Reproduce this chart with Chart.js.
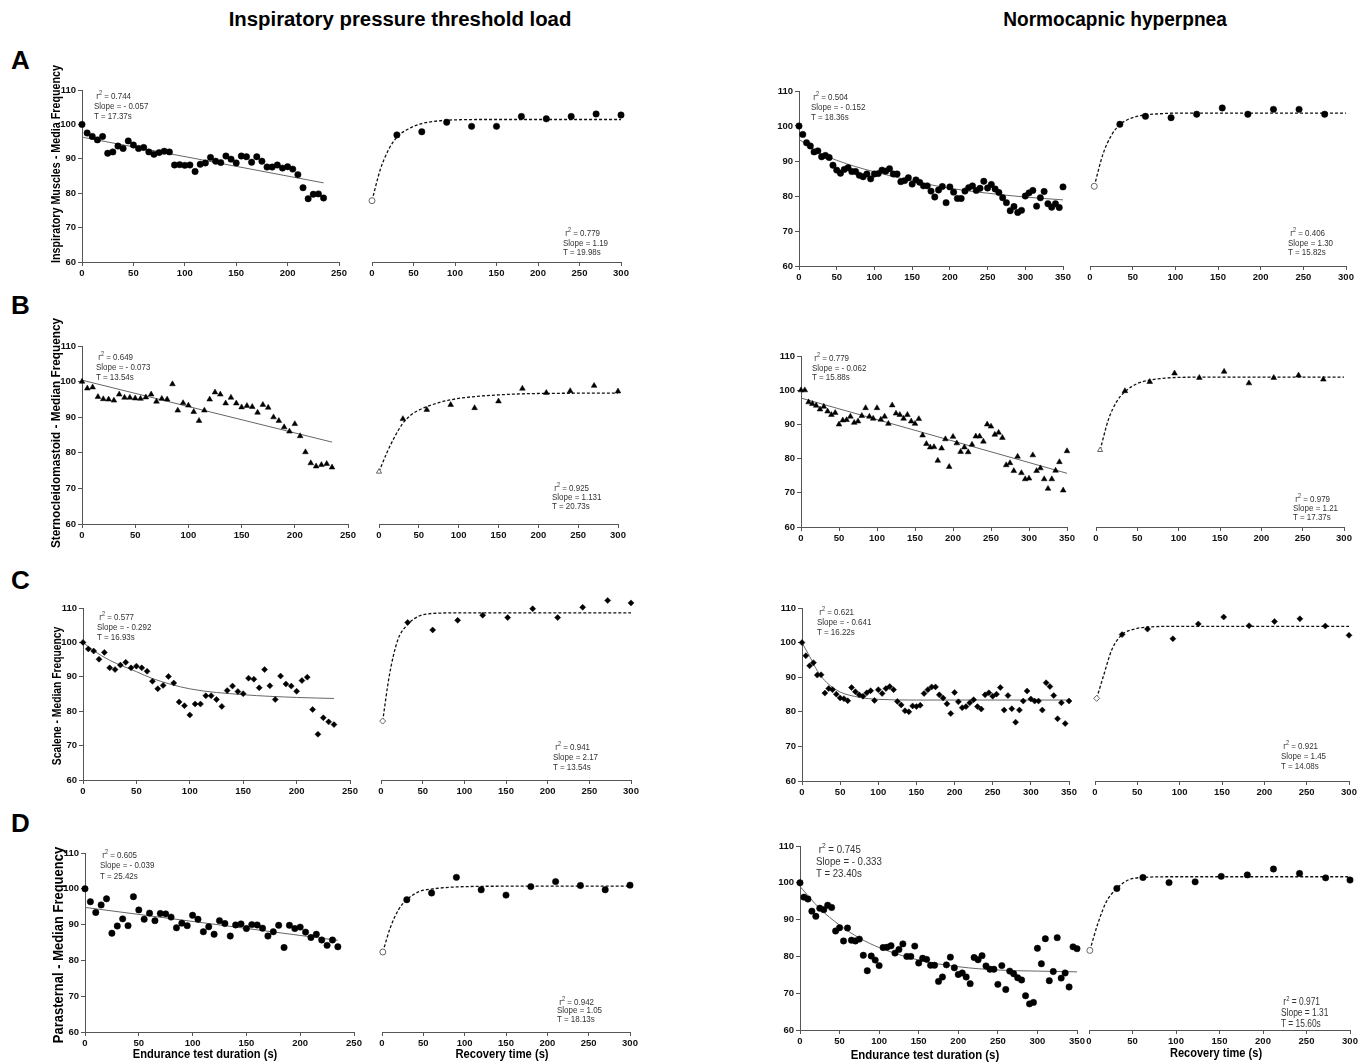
<!DOCTYPE html>
<html>
<head>
<meta charset="utf-8">
<script src="https://cdn.jsdelivr.net/npm/chart.js@4.4.0/dist/chart.umd.min.js"></script>
<style>
    body { margin: 0; background: #fff; }
    #fig { position: relative; width: 1364px; height: 1064px; overflow: hidden; font-family: "Liberation Sans", Arial, sans-serif; color: #000; }
    #fig canvas { position: absolute; }
    .txt { position: absolute; white-space: nowrap; }
    .title { font-weight: bold; font-size: 20px; }
    .letter { font-weight: bold; font-size: 26px; }
    .ytitle { font-weight: bold; font-size: 13.5px; }
    .xtitle { font-weight: bold; font-size: 12.5px; }
    .note { color: #333; transform-origin: left top; transform: scaleX(0.84); }
    .note sup { font-size: 70%; line-height: 0; }
</style>
</head>
<body>
<div id="fig"></div>
<script>
// time axis of the endurance tests (s)
const end235 = [0,5,10,15,20,25,30,35,40,45,50,55,60,65,70,75,80,85,90,95,100,105,110,115,120,125,130,135,140,145,150,155,160,165,170,175,180,185,190,195,200,205,210,215,220,225,230,235];
const end350 = [0,5,10,15,20,25,30,35,40,45,50,55,60,65,70,75,80,85,90,95,100,105,110,115,120,125,130,135,140,145,150,155,160,165,170,175,180,185,190,195,200,205,210,215,220,225,230,235,240,245,250,255,260,265,270,275,280,285,290,295,300,305,310,315,320,325,330,335,340,345,350];
const yTicks = [60, 70, 80, 90, 100, 110];

// A - inspiratory muscles
const aEndL = [100,97.5,96.5,95.5,96.5,91.6,92,93.7,93,95.2,94,93,93.3,92,91.3,91.8,92.2,92,88.2,88.3,88.1,88.2,86.3,88.4,88.8,90.4,89.3,88.9,90.8,89.9,88.8,90.8,90.6,89,90.6,89.3,87.6,87.6,88.2,87.3,87.7,87,85.4,81.6,78.4,79.7,79.8,78.6];
const aFitLx = [0, 235], aFitLy = [96.3, 83];
const aRecLx = [30,60,90,120,150,180,210,240,270,300];
const aRecLy = [97.1,98,100.8,99.6,99.6,102.5,101.8,102.5,103.2,102.9];
const aCurLx = [0,10,20,30,45,60,80,100,150,200,300];
const aCurLy = [77.9,87,92.8,96.4,99,100.4,101.2,101.5,101.6,101.6,101.6];
const aEndR = [100,97.6,95.2,94.3,92.6,92.9,91.2,91.6,91,88.8,87.4,86.5,87.6,88.1,87,87,85.9,85.5,86.3,84.9,86.3,86.4,87.4,87.1,87.8,86.3,86.3,84.1,84.4,85.2,83.4,84.6,83.9,82.9,82.9,81.4,79.7,81.7,82.7,78.1,82.6,81.1,79.3,79.3,81.4,82.4,82.9,81.6,82.2,84.2,82.3,83.3,82,81,79.5,78.1,75.8,77,75.3,75.9,80,80.9,81.6,77.1,79.5,81.3,77.8,76.8,77.8,76.7,82.6];
const aFitRx = [0,25,50,75,100,150,200,250,300,350];
const aFitRy = [96.2,92.6,90.2,88.4,86.9,84.3,82.2,80.8,79.7,78.9];
const aRecRx = [35,65,95,125,155,185,215,245,275];
const aRecRy = [100.7,103,102.6,103.6,105.4,103.6,105,105,103.6];
const aCurRx = [5,15,25,35,50,65,80,100,150,300];
const aCurRy = [82.9,92,97.5,100.6,102.6,103.4,103.7,103.9,103.9,103.9];

// B - sternocleidomastoid
const bEndL = [100,98.1,98.4,95.7,95.1,95,94.7,96.4,95.5,95.5,95.3,95.2,95.6,96.4,94.4,95.2,95,99.3,91.9,94,93.3,91.5,89,91.9,95,97,96.4,93.9,95.5,93.9,92.8,93.2,92.9,91.3,93.5,92.7,90,89,87.2,86,88.1,84.7,80.2,77.1,76.2,76.6,76.9,75.9];
const bFitLx = [0, 235], bFitLy = [100.4, 83];
const bRecLx = [30,60,90,120,150,180,210,240,270,300];
const bRecLy = [89.7,92.3,93.7,92.8,94.7,98.3,97.1,97.6,99.1,97.5];
const bCurLx = [0,10,20,30,40,50,75,100,150,200,300];
const bCurLy = [74.8,80.2,84.8,88.5,90.8,92.2,94.3,95.5,96.5,96.9,97];
const bEndR = [100,100,96.5,96,95.5,94.4,95.2,93.8,92.8,93.4,90,91.2,91.3,92.3,90.5,90.9,92.5,94.8,92.3,91.7,94.8,91.4,92.3,90.2,95.6,93.2,92.8,91.7,92.8,90.9,90.2,91.6,86.8,84.3,83.3,83.4,79.4,83,85.7,77.6,86.4,84.5,82,83.3,81.9,84.1,86.5,86.5,85,90,89.4,87,87.6,86.1,78.1,78.7,76.4,80.6,75.8,74,74.2,81,76.4,77.2,74,71.2,74,76.5,79,70.7,82.2];
const bFitRx = [0, 350], bFitRy = [97.7, 75.7];
const bRecRx = [35,65,95,125,155,185,215,245,275];
const bRecRy = [99.9,102.6,105.1,103.8,105.6,102.2,103.8,104.5,103.3];
const bCurRx = [5,15,25,35,50,65,80,100,150,300];
const bCurRy = [82.6,91.5,96.8,99.7,102.1,103.1,103.6,103.9,104,104];

// C - scalene
const cEndL = [100,98.1,97.5,95.1,97.1,92.6,92.1,93.4,94.2,92.6,93.1,92.6,91.6,88.7,86.5,87.5,90.1,88.2,82.7,81.6,78.9,82.1,82.1,84.5,84.5,83.4,81.4,86,87.3,85.7,85.1,89.6,89.3,86.8,92.1,87.4,83.4,90.2,87.9,87.3,85.8,88.9,89.9,80.5,73.3,78.1,76.9,76.1];
const cFitLx = [0,10,25,50,65,100,150,200,235];
const cFitLy = [100,97.6,94.8,91.5,89.5,86.5,84.8,84,83.7];
const cRecLx = [32,62,92,122,152,182,212,242,272,300];
const cRecLy = [106,103.8,106.6,108.1,107.4,110,107.4,110.4,112.4,111.7];
const cCurLx = [2,10,20,30,40,50,70,100,150,300];
const cCurLy = [77.2,90.5,100.8,104.9,107.1,108.2,108.7,108.8,108.8,108.8];
const cEndR = [100,96.2,93.3,94.2,90.6,90.7,85.4,86.7,86.4,85.1,84,83.8,83.2,87,85.8,84.9,84.5,85.5,86.1,83.3,86.4,85.3,86.7,87.3,86.4,83,82,80.3,80,81.7,81.5,81.9,85.3,86.4,87.2,87.2,84.9,84,82.3,79.5,85.6,82.9,81.2,81.5,82.6,83.5,81.5,80.8,84.9,85.5,84.5,85.1,87,80.5,84.7,80.9,77,80.5,83.1,86,83.7,83.1,83.1,80.5,88.4,87.3,84.7,78,82.6,76.6,83.1];
const cFitRx = [0,10,20,30,40,50,75,100,150,350];
const cFitRy = [100,96,91.9,89,87.1,85.7,84.2,83.6,83.4,83.4];
const cRecRx = [32,62,92,122,152,182,212,242,272,300];
const cRecRy = [102.5,104.1,101.3,105.6,107.6,105.1,106.3,107.1,105,102.3];
const cCurRx = [2,10,20,32,45,62,100,300];
const cCurRy = [84,90.5,98.2,102.5,104,104.7,104.9,104.9];

// D - parasternal
const dEndL = [100,96.4,93.4,95.5,97.2,87.6,89.6,91.6,89.7,97.8,94.1,91.5,93.2,91.1,93.1,93,92.1,89.1,90.4,89.7,92.6,91.5,88,89.4,87.3,91.1,90.3,86.8,89.9,90.2,88.9,90,89.9,89,86.8,88,89.8,83.6,89.8,88.9,89.3,87.9,86.4,87.3,85.7,84.2,85.7,83.8];
const dFitLx = [0, 235], dFitLy = [94.8, 85.6];
const dRecLx = [30,60,90,120,150,180,210,240,270,300];
const dRecLy = [97.2,99.1,103.5,100,98.5,100.9,102.3,101.2,100,101.3];
const dCurLx = [1,10,20,30,45,60,90,150,300];
const dCurLy = [82.5,89.3,94.4,97.2,99.5,100.2,100.8,101,101];
const dEndR = [100,96.1,95.6,92.3,90.9,93.1,92.7,93.9,93.3,86.9,87.8,84.2,87.7,84.4,84.2,84.7,80.3,76.1,80.1,79,77.5,82.4,82.5,82.9,80.9,81.9,83.4,80,80,82.8,78.2,79.5,79.2,77.6,77.6,73.2,74.4,77.7,79.8,76.9,75.1,75.5,74.4,72.6,79.7,79.1,80.2,77.4,76.5,76.5,72.4,77.5,71,76,75.3,74.2,73.6,69.3,67.1,67.5,82.2,78,84.8,73.4,75.9,85.1,74.1,75.5,71.7,82.6,82.1];
const dFitRx = [0,25,50,75,100,150,200,250,300,350];
const dFitRy = [99,93,88.5,85,82.4,79,77.2,76.3,76,75.8];
const dRecRx = [32,62,92,122,152,182,212,242,272,300];
const dRecRy = [98.6,101.6,100.2,100.4,101.9,102.3,103.9,102.7,101.5,100.9];
const dCurRx = [1,10,20,32,45,62,100,300];
const dCurRy = [81.7,88.9,95,98.6,100.9,101.6,101.8,101.8];

// first recovery value (open symbol): [time, value]
const aOpenL = [0, 77.9], aOpenR = [5, 82.9];
const bOpenL = [0, 74.8], bOpenR = [5, 82.6];
const cOpenL = [2, 77.2], cOpenR = [2, 84];
const dOpenL = [1, 82.5], dOpenR = [1, 81.7];

const fig = document.getElementById("fig");
const FONT = "'Liberation Sans', Arial, sans-serif";

function xy(xs, ys) {
    return xs.map((x, i) => ({ x: x, y: ys[i] }));
}

// one axis box: x0/x1 = pixel of first/last x tick, yTop/yBot = pixel of 110/60
// recovery boxes have no visible y axis, so their range runs up to 114 to keep high points drawn
function panel(box, xMax, showY, datasets) {
    let yMax = showY ? 110 : 114;
    let extra = (box.yBot - box.yTop) / 50 * (yMax - 110);
    let padL = showY ? 32 : 9;
    let padR = 14, padT = showY ? 12 : 4, axisH = 18;
    let w = box.x1 - box.x0 + padL + padR;
    let h = box.yBot - box.yTop + extra + padT + axisH;

    let canvas = document.createElement("canvas");
    canvas.width = w;
    canvas.height = Math.round(h);
    canvas.style.left = (box.x0 - padL) + "px";
    canvas.style.top = Math.round(box.yTop - extra - padT) + "px";
    fig.appendChild(canvas);

    let tickFont = { family: FONT, size: 9.5, weight: "bold" };
    new Chart(canvas.getContext("2d"), {
        type: "scatter",
        data: { datasets: datasets },
        options: {
            responsive: false,
            animation: false,
            layout: { padding: { left: showY ? 0 : padL, right: padR, top: padT, bottom: 0 } },
            plugins: { legend: { display: false }, tooltip: { enabled: false } },
            scales: {
                x: {
                    type: "linear", min: 0, max: xMax,
                    grid: { drawOnChartArea: false, drawTicks: true, tickLength: 4, color: "#555" },
                    border: { display: true, color: "#555", width: 1 },
                    ticks: { stepSize: 50, color: "#111", font: tickFont, padding: 2, maxRotation: 0 },
                    afterFit: s => { s.height = axisH; }
                },
                y: {
                    display: showY, min: 60, max: yMax,
                    grid: { drawOnChartArea: false, drawTicks: true, tickLength: 4, color: "#555" },
                    border: { display: true, color: "#555", width: 1 },
                    afterBuildTicks: s => { s.ticks = yTicks.map(v => ({ value: v })); },
                    ticks: { color: "#111", font: tickFont, padding: 2 },
                    afterFit: s => { s.width = padL; }
                }
            }
        }
    });
}

function dots(xs, ys, style, r) {
    return { data: xy(xs, ys), pointStyle: style, pointRadius: r, backgroundColor: "#000", borderColor: "#000", borderWidth: 0.5, clip: false, order: 1 };
}

function openDot(p, style) {
    return { data: [{ x: p[0], y: p[1] }], pointStyle: style, pointRadius: 3, backgroundColor: "#fff", borderColor: "#666", borderWidth: 1, clip: false, order: 0 };
}

function fitLine(xs, ys, dashed) {
    return {
        data: xy(xs, ys), showLine: true, pointRadius: 0, fill: false, clip: false, order: 2,
        borderColor: dashed ? "#111" : "#666", borderWidth: dashed ? 1.3 : 1,
        borderDash: dashed ? [3, 2] : [], cubicInterpolationMode: "monotone"
    };
}

// endurance (solid fit) + recovery (dashed fit) for each row/column
function row(endBox, recBox, xMax, times, endY, fitX, fitY, recX, recY, curX, curY, open, style, r) {
    panel(endBox, xMax, true, [fitLine(fitX, fitY, false), dots(times, endY, style, r)]);
    panel(recBox, 300, false, [fitLine(curX, curY, true), dots(recX, recY, style, r), openDot(open, style)]);
}

row({ x0: 82, x1: 339, yTop: 90, yBot: 262 }, { x0: 363, x1: 621, yTop: 90, yBot: 262 }, 250, end235, aEndL, aFitLx, aFitLy, aRecLx, aRecLy, aCurLx, aCurLy, aOpenL, "circle", 3.2);
row({ x0: 799, x1: 1063, yTop: 91, yBot: 266 }, { x0: 1081, x1: 1346, yTop: 91, yBot: 266 }, 350, end350, aEndR, aFitRx, aFitRy, aRecRx, aRecRy, aCurRx, aCurRy, aOpenR, "circle", 3.2);
row({ x0: 82, x1: 348, yTop: 346, yBot: 524 }, { x0: 370, x1: 618, yTop: 346, yBot: 524 }, 250, end235, bEndL, bFitLx, bFitLy, bRecLx, bRecLy, bCurLx, bCurLy, bOpenL, "triangle", 3.3);
row({ x0: 801, x1: 1067, yTop: 356, yBot: 527 }, { x0: 1087, x1: 1344, yTop: 356, yBot: 527 }, 350, end350, bEndR, bFitRx, bFitRy, bRecRx, bRecRy, bCurRx, bCurRy, bOpenR, "triangle", 3.3);
row({ x0: 83, x1: 350, yTop: 608, yBot: 780 }, { x0: 372, x1: 631, yTop: 608, yBot: 780 }, 250, end235, cEndL, cFitLx, cFitLy, cRecLx, cRecLy, cCurLx, cCurLy, cOpenL, "rectRot", 3);
row({ x0: 802, x1: 1069, yTop: 608, yBot: 781 }, { x0: 1086, x1: 1349, yTop: 608, yBot: 781 }, 350, end350, cEndR, cFitRx, cFitRy, cRecRx, cRecRy, cCurRx, cCurRy, cOpenR, "rectRot", 3);
row({ x0: 85, x1: 354, yTop: 853, yBot: 1032 }, { x0: 373, x1: 630, yTop: 853, yBot: 1032 }, 250, end235, dEndL, dFitLx, dFitLy, dRecLx, dRecLy, dCurLx, dCurLy, dOpenL, "circle", 3.2);
row({ x0: 800, x1: 1077, yTop: 846, yBot: 1030 }, { x0: 1080, x1: 1350, yTop: 846, yBot: 1030 }, 350, end350, dEndR, dFitRx, dFitRy, dRecRx, dRecRy, dCurRx, dCurRy, dOpenR, "circle", 3.2);

// ---- text ----
function addText(cls, html, x, y, extra) {
    let d = document.createElement("div");
    d.className = "txt " + cls;
    d.innerHTML = html;
    d.style.left = x + "px";
    d.style.top = y + "px";
    if (extra) Object.assign(d.style, extra);
    fig.appendChild(d);
    return d;
}

// centred label squeezed/stretched to the width it has in the figure
function fitLabel(cls, text, cx, cy, len, rotate, size) {
    let d = addText(cls, text, cx, cy, size ? { fontSize: size + "px" } : null);
    let s = len / d.offsetWidth;
    d.style.transform = "translate(-50%, -50%)" + (rotate ? " rotate(-90deg)" : "") + " scaleX(" + s + ")";
    return d;
}

fitLabel("title", "Inspiratory pressure threshold load", 400, 19, 343, false);
fitLabel("title", "Normocapnic hyperpnea", 1115, 19, 224, false);

addText("letter", "A", 11, 45);
addText("letter", "B", 11, 290);
addText("letter", "C", 11, 565);
addText("letter", "D", 11, 808);

fitLabel("ytitle", "Inspiratory Muscles - Media Frequency", 55, 164, 198, true, 13.5);
fitLabel("ytitle", "Sternocleidomastoid - Median Frequency", 55, 433, 230, true, 13.5);
fitLabel("ytitle", "Scalene - Median Frequency", 57, 696, 138, true, 12);
fitLabel("ytitle", "Parasternal - Median Frequency", 58, 945, 196, true, 15.5);

fitLabel("xtitle", "Endurance test duration (s)", 205, 1054, 145, false);
fitLabel("xtitle", "Recovery time (s)", 502, 1054, 93, false);
fitLabel("xtitle", "Endurance test duration (s)", 925, 1055, 149, false);
fitLabel("xtitle", "Recovery time (s)", 1216, 1053, 92, false);

// fit statistics: [x, first line centre y, line spacing, font size, r2, slope, T]
const notes = [
    [94, 96, 10, 9.5, "0.744", "- 0.057", "17.37s"],
    [563, 233, 9.5, 9.5, "0.779", "1.19", "19.98s"],
    [811, 97, 10, 9.5, "0.504", "- 0.152", "18.36s"],
    [1288, 233, 9.5, 9.5, "0.406", "1.30", "15.82s"],
    [96, 357, 10, 9.5, "0.649", "- 0.073", "13.54s"],
    [552, 487, 9, 9.5, "0.925", "1.131", "20.73s"],
    [812, 358, 9.5, 9.5, "0.779", "- 0.062", "15.88s"],
    [1293, 498, 9, 9.5, "0.979", "1.21", "17.37s"],
    [97, 617, 10, 9.5, "0.577", "- 0.292", "16.93s"],
    [553, 747, 10, 9.5, "0.941", "2.17", "13.54s"],
    [817, 612, 10, 9.5, "0.621", "- 0.641", "16.22s"],
    [1281, 746, 10, 9.5, "0.921", "1.45", "14.08s"],
    [100, 855, 10.5, 9.5, "0.605", "- 0.039", "25.42s"],
    [557, 1002, 8.8, 9.5, "0.942", "1.05", "18.13s"],
    [816, 849, 12, 11.5, "0.745", "- 0.333", "23.40s"],
    [1281, 1001, 11, 10, "0.971", "1.31", "15.60s"]
];

notes.forEach(n => {
    let html = "&nbsp;r<sup>2</sup> = " + n[4] + "<br>Slope = " + n[5] + "<br>T = " + n[6];
    addText("note", html, n[0], n[1] - n[2] / 2, { fontSize: n[3] + "px", lineHeight: n[2] + "px" });
});
</script>
</body>
</html>
